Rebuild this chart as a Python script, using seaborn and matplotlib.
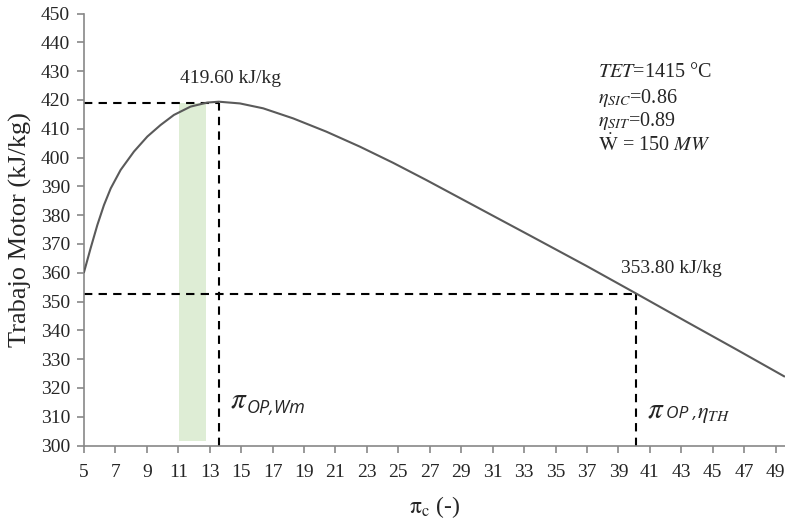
import matplotlib
matplotlib.use("Agg")
import numpy as np
import pandas as pd
import matplotlib.pyplot as plt
import seaborn as sns

# Values
pi_c = [5.0, 5.42, 5.85, 6.27, 6.70, 7.33, 8.18, 9.03, 9.87, 10.72, 11.78, 12.84, 13.58,
        14.92, 16.40, 18.31, 20.42, 22.55, 24.66, 26.78, 28.90, 31.02, 33.35,
        36.96, 40.03, 43.3, 46.5, 49.56]
trabajo = [360.2, 368.5, 376.6, 383.5, 389.3, 395.7, 402.1, 407.3, 411.3, 414.8, 417.7, 419.1, 419.4,
           418.8, 417.1, 413.6, 409.0, 403.8, 398.2, 392.2, 386.0, 379.8, 373.0,
           362.4, 353.1, 343.1, 333.4, 324.0]

pi_max_w = 13.58
w_max = 419.0
pi_max_eta = 40.1
w_eta = 352.6
label_max = "419.60 kJ/kg"
label_eta = "353.80 kJ/kg"
band = [11.04, 12.74]
band_y = [301.5, 419.0]

x_ticks = list(range(5, 50, 2))
y_ticks = list(range(300, 451, 10))

df = pd.DataFrame({"pi_c": pi_c, "trabajo": trabajo})

sns.set_style("ticks")
plt.rcParams['font.family'] = ['Liberation Serif', 'DejaVu Serif']
plt.rcParams['mathtext.fontset'] = 'stix'

fig = plt.figure(figsize=(7.85, 5.22), dpi=100)
ax = fig.add_axes([0.107, 0.1464, 0.893, 0.8276])

# shaded band
ax.fill_between(band, band_y[0], band_y[1], color='#deedd5', lw=0, zorder=1)

sns.lineplot(data=df, x="pi_c", y="trabajo", ax=ax, color='#5a5a5a', lw=1.5, zorder=3)

# dashed guide lines
dash = (0, (4, 3))
ax.plot([5, pi_max_w], [w_max, w_max], ls=dash, color='black', lw=1.5, zorder=2)
ax.plot([pi_max_w, pi_max_w], [300, w_max], ls=dash, color='black', lw=1.5, zorder=2)
ax.plot([5, pi_max_eta], [w_eta, w_eta], ls=dash, color='black', lw=1.5, zorder=2)
ax.plot([pi_max_eta, pi_max_eta], [300, w_eta], ls=dash, color='black', lw=1.5, zorder=2)

ax.set_xlim(5, 49.6)
ax.set_ylim(300, 450)
ax.set_xticks(x_ticks)
ax.set_yticks(y_ticks)
ax.tick_params(axis='both', labelsize=14, color='#888888', length=5, width=1.2)
ax.tick_params(axis='x', pad=8)
ax.tick_params(axis='y', pad=5)
for s in ['left', 'bottom']:
    ax.spines[s].set_color('#888888')
    ax.spines[s].set_linewidth(1.2)
sns.despine(ax=ax)

ax.set_xlabel(r"$\mathrm{\pi_c}$ (-)", fontsize=17, labelpad=10)
ax.set_ylabel("Trabajo Motor (kJ/kg)", fontsize=19, labelpad=6)

ax.text(14.35, 427.5, label_max, fontsize=14, ha='center', va='center')
ax.text(42.4, 361.5, label_eta, fontsize=14, ha='center', va='center')

# pi labels (serif pi, sans italic subscripts)
ax.text(14.28, 313.1, r"$\pi$", fontsize=21, va='baseline')
ax.text(15.36, 311.3, "OP,Wm", fontsize=13, family='Open Sans', style='italic', va='baseline')
ax.text(40.79, 309.9, r"$\pi$", fontsize=21, va='baseline')
ax.text(42.0, 309.6, "OP ,", fontsize=12.5, family='Open Sans', style='italic', va='baseline')
ax.text(43.97, 309.6, r"$\eta_{TH}$", fontsize=16, va='baseline')

ax.text(37.7, 429.7, r"$TET$=1415 °C", fontsize=14.5, va='center')
ax.text(37.7, 420.7, r"$\eta_{SIC}$=0.86", fontsize=14.5, va='center')
ax.text(37.7, 412.7, r"$\eta_{SIT}$=0.89", fontsize=14.5, va='center')
ax.text(37.7, 404.4, r"$\dot{\mathrm{W}}$ = 150 $MW$", fontsize=14.5, va='center')

fig.savefig("out.png", dpi=100)
